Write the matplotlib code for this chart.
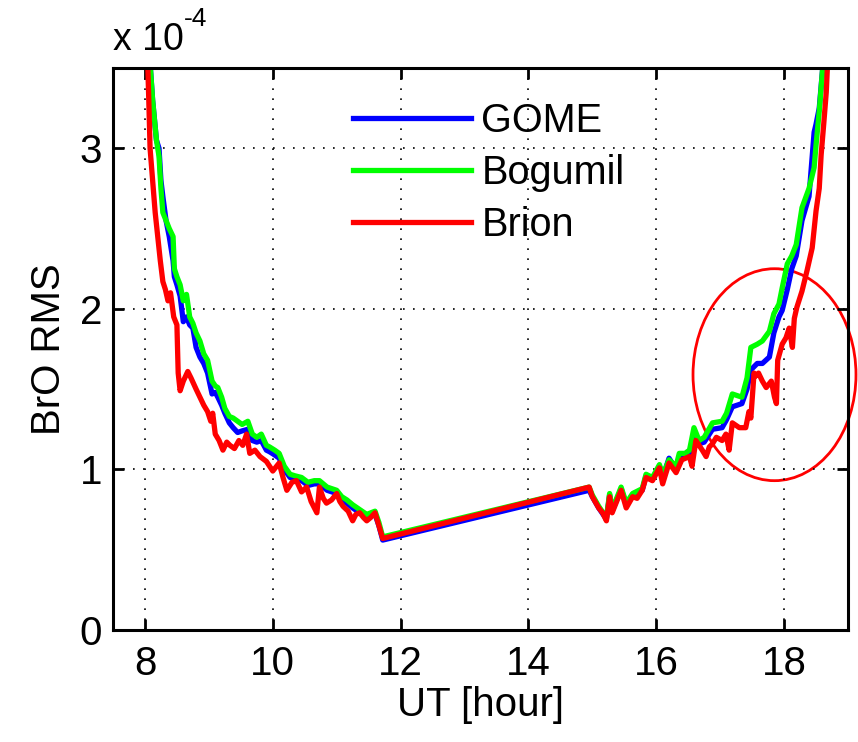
import matplotlib
matplotlib.use('Agg')
import matplotlib.pyplot as plt
from matplotlib.patches import Ellipse

plt.rcParams.update({'font.family': ['Liberation Sans', 'DejaVu Sans'],
                     'font.size': 28})

# ── Data (BrO RMS in units of 1e-4 vs UT hour) ───────────────
brion_t = [8.03, 8.06, 8.08, 8.12, 8.16, 8.20, 8.24, 8.28, 8.32, 8.36, 8.40,
           8.45, 8.50, 8.52, 8.55, 8.60, 8.67, 8.72, 8.80, 8.86, 8.92, 8.98,
           9.03, 9.06, 9.10, 9.16, 9.22, 9.28, 9.33, 9.40, 9.47, 9.53, 9.59,
           9.64, 9.72, 9.80, 9.90, 10.0, 10.1, 10.16, 10.22, 10.3, 10.37,
           10.45, 10.53, 10.6, 10.69, 10.73, 10.79, 10.84, 10.92, 11.0, 11.05,
           11.1, 11.18, 11.25, 11.30, 11.36, 11.42, 11.47, 11.53, 11.6, 11.66,
           11.72, 14.95, 15.0, 15.1, 15.16, 15.22, 15.27, 15.31, 15.38, 15.45,
           15.53, 15.63, 15.7, 15.78, 15.84, 15.94, 16.05, 16.1, 16.2, 16.31,
           16.4, 16.52, 16.56, 16.62, 16.72, 16.78, 16.83, 16.88, 16.94, 17.03,
           17.09, 17.14, 17.19, 17.3, 17.4, 17.45, 17.48, 17.53, 17.55, 17.6,
           17.66, 17.72, 17.8, 17.85, 17.88, 17.9, 17.97, 18.03, 18.08, 18.13,
           18.16, 18.2, 18.28, 18.36, 18.44, 18.5, 18.55, 18.58, 18.62, 18.66,
           18.7]
brion_rms = [3.7, 3.3, 3.0, 2.8, 2.6, 2.45, 2.3, 2.17, 2.12, 2.05, 2.1,
             1.95, 1.9, 1.6, 1.49, 1.55, 1.61, 1.57, 1.5, 1.45, 1.40, 1.36,
             1.30, 1.35, 1.22, 1.18, 1.12, 1.17, 1.15, 1.13, 1.18, 1.15, 1.22,
             1.10, 1.12, 1.08, 1.05, 0.99, 1.04, 0.95, 0.87, 0.92, 0.93,
             0.86, 0.89, 0.80, 0.73, 0.89, 0.82, 0.79, 0.81, 0.85, 0.80,
             0.77, 0.74, 0.68, 0.72, 0.73, 0.70, 0.68, 0.70, 0.73, 0.65,
             0.57, 0.89, 0.83, 0.76, 0.73, 0.68, 0.83, 0.73, 0.80, 0.87,
             0.76, 0.83, 0.82, 0.87, 0.95, 0.93, 1.01, 0.91, 1.04, 0.98,
             1.06, 1.08, 1.02, 1.18, 1.12, 1.08, 1.14, 1.16, 1.20, 1.18,
             1.22, 1.12, 1.29, 1.26, 1.26, 1.36, 1.32, 1.60, 1.58, 1.60,
             1.55, 1.51, 1.55, 1.45, 1.41, 1.68, 1.78, 1.82, 1.88, 1.76,
             1.94, 2.01, 2.11, 2.24, 2.38, 2.61, 2.75, 2.96, 3.15, 3.35,
             3.7]

sat_t = [8.05, 8.12, 8.18, 8.22, 8.25, 8.28, 8.33, 8.38, 8.44, 8.46, 8.50,
         8.55, 8.60, 8.65, 8.70, 8.75, 8.80, 8.86, 8.92, 8.98, 9.05, 9.10,
         9.14, 9.20, 9.25, 9.32, 9.38, 9.45, 9.52, 9.61, 9.68, 9.75, 9.82,
         9.90, 9.95, 10.03, 10.1, 10.18, 10.27, 10.35, 10.45, 10.55, 10.65,
         10.73, 10.85, 11.0, 11.08, 11.16, 11.25, 11.36, 11.47, 11.6, 11.66,
         11.72, 14.95, 15.0, 15.1, 15.22, 15.27, 15.31, 15.45, 15.53, 15.63,
         15.78, 15.84, 15.94, 16.05, 16.1, 16.2, 16.31, 16.36, 16.45, 16.52,
         16.59, 16.67, 16.75, 16.88, 17.03, 17.1, 17.19, 17.34, 17.42, 17.48,
         17.58, 17.66, 17.77, 17.84, 17.92, 17.97, 18.05, 18.12, 18.19, 18.28,
         18.39, 18.47, 18.5, 18.55, 18.6, 18.63]
bogumil_rms = [3.7, 3.3, 3.05, 2.95, 2.75, 2.6, 2.55, 2.50, 2.45, 2.25, 2.2,
               2.15, 2.05, 2.09, 1.95, 1.91, 1.85, 1.80, 1.72, 1.68, 1.55, 1.52,
               1.51, 1.45, 1.38, 1.33, 1.32, 1.30, 1.28, 1.30, 1.22, 1.20, 1.22,
               1.15, 1.14, 1.12, 1.10, 1.02, 0.97, 0.96, 0.95, 0.92, 0.93,
               0.93, 0.89, 0.87, 0.83, 0.81, 0.78, 0.75, 0.72, 0.74, 0.67,
               0.58, 0.89, 0.84, 0.77, 0.70, 0.85, 0.75, 0.89, 0.79, 0.85,
               0.88, 0.97, 0.95, 1.03, 0.96, 1.06, 1.02, 1.10, 1.10, 1.12,
               1.26, 1.18, 1.20, 1.29, 1.30, 1.35, 1.47, 1.45, 1.57, 1.76,
               1.78, 1.80, 1.86, 1.97, 2.03, 2.13, 2.28, 2.33, 2.40, 2.63,
               2.75, 2.88, 3.02, 3.23, 3.48, 3.7]
gome_rms = [3.7, 3.3, 3.05, 3.0, 2.8, 2.7, 2.55, 2.45, 2.3, 2.2, 2.15,
            2.08, 1.92, 1.95, 1.9, 1.88, 1.76, 1.70, 1.66, 1.6, 1.47, 1.48,
            1.45, 1.40, 1.35, 1.29, 1.26, 1.23, 1.24, 1.25, 1.18, 1.17, 1.18,
            1.12, 1.11, 1.09, 1.07, 1.0, 0.95, 0.94, 0.93, 0.90, 0.91,
            0.91, 0.87, 0.85, 0.81, 0.79, 0.76, 0.73, 0.70, 0.72, 0.65,
            0.56, 0.87, 0.83, 0.76, 0.69, 0.84, 0.74, 0.88, 0.78, 0.84,
            0.87, 0.96, 0.94, 1.02, 0.95, 1.07, 1.0, 1.08, 1.08, 1.10,
            1.22, 1.16, 1.17, 1.25, 1.26, 1.31, 1.39, 1.41, 1.50, 1.62,
            1.66, 1.66, 1.70, 1.85, 1.95, 1.99, 2.12, 2.25, 2.33, 2.55,
            2.70, 3.10, 3.15, 3.25, 3.48, 3.7]

x_ticks = [8, 10, 12, 14, 16, 18]
y_ticks = [0, 1, 2, 3]

# ── Figure ───────────────────────────────────────────────────
fig = plt.figure(figsize=(8.58, 7.42), dpi=100)
ax = fig.add_axes([113 / 858, 112 / 742, 735 / 858, 562 / 742])

lw = 3.8
ax.plot(sat_t, gome_rms, color='#0000ff', lw=lw, label='GOME')
ax.plot(sat_t, bogumil_rms, color='#00ff00', lw=lw, label='Bogumil')
ax.plot(brion_t, brion_rms, color='#ff0000', lw=lw, label='Brion')

ax.set_xlim(7.5, 19)
ax.set_ylim(0, 3.5)
ax.set_xticks(x_ticks)
ax.set_yticks(y_ticks)
ax.grid(True, color='black', linestyle=(0, (1, 5)), linewidth=1.2)
ax.tick_params(direction='in', length=8, width=2, top=True, right=True,
               labelsize=29)
ax.tick_params(axis='x', pad=11)
ax.tick_params(axis='y', pad=8)
for sp in ax.spines.values():
    sp.set_linewidth(2.2)

ax.set_xlabel('UT [hour]', fontsize=29, labelpad=2)
ax.set_ylabel('BrO RMS', fontsize=29, labelpad=8)
fig.text(113 / 858, 1 - 50 / 742, 'x 10', fontsize=27,
         ha='left', va='baseline')
fig.text(184 / 858, 1 - 26 / 742, '-4', fontsize=19,
         ha='left', va='baseline')

ax.legend(loc='upper left', bbox_to_anchor=(0.326, 0.94), frameon=False,
          fontsize=28.5, handlelength=3.0, handletextpad=0.25,
          labelspacing=0.36, borderpad=0, borderaxespad=0)

# highlight of the evening part
ax.add_patch(Ellipse((17.85, 1.59), 2.55, 1.32, fill=False,
                     edgecolor='red', linewidth=2.0, clip_on=False))

fig.savefig('out.png', dpi=100)
